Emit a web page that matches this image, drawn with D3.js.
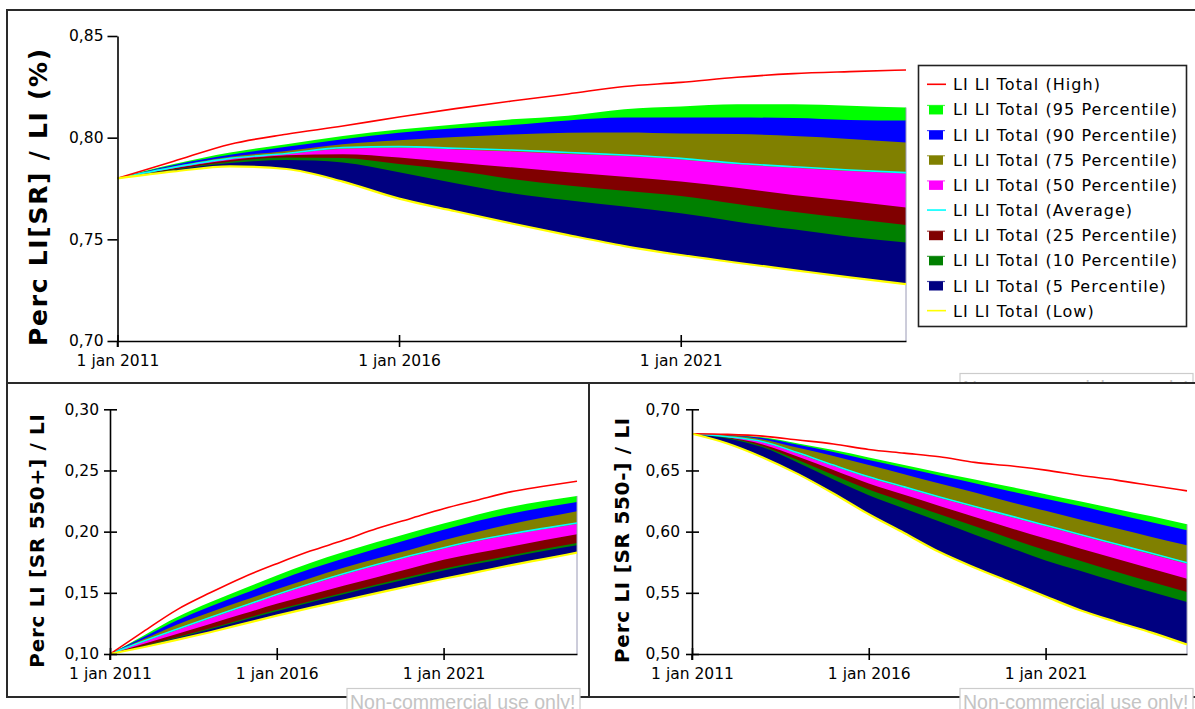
<!DOCTYPE html>
<html>
<head>
<meta charset="utf-8">
<script src="https://cdn.jsdelivr.net/npm/d3@7"></script>
<style>
  body { margin: 0; background: #fff; }
  text { font-family: "DejaVu Sans", Verdana, sans-serif; }
</style>
</head>
<body>
<div id="chart"></div>
<script>
// Yearly points, 1 jan of each year
var years = [2011, 2012, 2013, 2014, 2015, 2016, 2017, 2018, 2019, 2020, 2021, 2022, 2023, 2024, 2025];
var xTickYears = [2011, 2016, 2021];

// Perc LI[SR] / LI (%)
var totHigh = [0.780, 0.7884, 0.7968, 0.8017, 0.8057, 0.8102, 0.8143, 0.8180, 0.8215, 0.8252, 0.8272, 0.8297, 0.8315, 0.8325, 0.8333];
var totP95  = [0.780, 0.7870, 0.7927, 0.7968, 0.8008, 0.8040, 0.8065, 0.8090, 0.8108, 0.8140, 0.8153, 0.8164, 0.8164, 0.8157, 0.8148];
var totP90  = [0.780, 0.7866, 0.7916, 0.7955, 0.7992, 0.8024, 0.8046, 0.8062, 0.8085, 0.8099, 0.8099, 0.8099, 0.8097, 0.8087, 0.8084];
var totP75  = [0.780, 0.7859, 0.7906, 0.7935, 0.7968, 0.7987, 0.8003, 0.8016, 0.8024, 0.8026, 0.8021, 0.8018, 0.8008, 0.7994, 0.7976];
var totAvg  = [0.780, 0.7854, 0.7898, 0.7922, 0.7951, 0.7956, 0.7948, 0.7939, 0.7927, 0.7915, 0.7898, 0.7874, 0.7857, 0.7841, 0.7828];
var totP50  = [0.780, 0.7852, 0.7895, 0.7918, 0.7945, 0.7950, 0.7942, 0.7932, 0.7920, 0.7910, 0.7893, 0.7869, 0.7852, 0.7836, 0.7824];
var totP25  = [0.780, 0.7849, 0.7890, 0.7914, 0.7919, 0.7903, 0.7878, 0.7854, 0.7830, 0.7808, 0.7784, 0.7754, 0.7718, 0.7689, 0.7656];
var totP10  = [0.780, 0.7844, 0.7882, 0.7903, 0.7900, 0.7870, 0.7838, 0.7797, 0.7765, 0.7739, 0.7713, 0.7674, 0.7636, 0.7603, 0.7571];
var totP5   = [0.780, 0.7841, 0.7875, 0.7890, 0.7878, 0.7830, 0.7776, 0.7727, 0.7692, 0.7661, 0.7628, 0.7587, 0.7549, 0.7513, 0.7485];
var totLow  = [0.780, 0.7834, 0.7859, 0.7846, 0.7784, 0.7700, 0.7638, 0.7578, 0.7521, 0.7467, 0.7423, 0.7385, 0.7349, 0.7313, 0.7280];

// Perc LI [SR 550+] / LI
var plusHigh = [0.100, 0.1183, 0.1361, 0.1500, 0.1628, 0.1738, 0.1841, 0.1929, 0.2025, 0.2106, 0.2188, 0.2257, 0.2325, 0.2371, 0.2412];
var plusP95  = [0.100, 0.1150, 0.1301, 0.1423, 0.1533, 0.1642, 0.1743, 0.1833, 0.1915, 0.1992, 0.2066, 0.2139, 0.2202, 0.2251, 0.2292];
var plusP90  = [0.100, 0.1137, 0.1273, 0.1388, 0.1492, 0.1596, 0.1694, 0.1781, 0.1863, 0.1940, 0.2016, 0.2087, 0.2147, 0.2197, 0.2243];
var plusP75  = [0.100, 0.1120, 0.1240, 0.1342, 0.1437, 0.1530, 0.1620, 0.1705, 0.1781, 0.1852, 0.1929, 0.1997, 0.2060, 0.2115, 0.2167];
var plusAvg  = [0.100, 0.1104, 0.1202, 0.1298, 0.1393, 0.1486, 0.1574, 0.1656, 0.1732, 0.1803, 0.1869, 0.1929, 0.1981, 0.2027, 0.2071];
var plusP50  = [0.100, 0.1098, 0.1194, 0.1290, 0.1385, 0.1478, 0.1566, 0.1648, 0.1724, 0.1795, 0.1861, 0.1921, 0.1973, 0.2019, 0.2063];
var plusP25  = [0.100, 0.1082, 0.1164, 0.1246, 0.1328, 0.1410, 0.1484, 0.1557, 0.1628, 0.1699, 0.1770, 0.1825, 0.1877, 0.1929, 0.1978];
var plusP10  = [0.100, 0.1068, 0.1137, 0.1210, 0.1287, 0.1361, 0.1432, 0.1500, 0.1568, 0.1634, 0.1697, 0.1751, 0.1806, 0.1858, 0.1907];
var plusP5   = [0.100, 0.1063, 0.1131, 0.1202, 0.1276, 0.1350, 0.1421, 0.1489, 0.1555, 0.1620, 0.1683, 0.1738, 0.1790, 0.1841, 0.1888];
var plusLow  = [0.100, 0.1055, 0.1115, 0.1178, 0.1246, 0.1314, 0.1377, 0.1437, 0.1497, 0.1557, 0.1615, 0.1669, 0.1724, 0.1776, 0.1828];

// Perc LI [SR 550-] / LI
var minHigh = [0.680, 0.6795, 0.6781, 0.6749, 0.6716, 0.6672, 0.6642, 0.6612, 0.6566, 0.6538, 0.6503, 0.6459, 0.6421, 0.6377, 0.6333];
var minP95  = [0.680, 0.6792, 0.6771, 0.6721, 0.6667, 0.6607, 0.6544, 0.6484, 0.6426, 0.6366, 0.6306, 0.6246, 0.6186, 0.6126, 0.6060];
var minP90  = [0.680, 0.6790, 0.6765, 0.6710, 0.6650, 0.6585, 0.6522, 0.6459, 0.6396, 0.6331, 0.6268, 0.6208, 0.6142, 0.6077, 0.6011];
var minP75  = [0.680, 0.6787, 0.6754, 0.6686, 0.6618, 0.6544, 0.6470, 0.6393, 0.6320, 0.6243, 0.6170, 0.6098, 0.6027, 0.5956, 0.5888];
var minAvg  = [0.680, 0.6776, 0.6735, 0.6645, 0.6544, 0.6448, 0.6366, 0.6284, 0.6205, 0.6129, 0.6052, 0.5975, 0.5899, 0.5823, 0.5746];
var minP50  = [0.680, 0.6773, 0.6730, 0.6637, 0.6536, 0.6440, 0.6358, 0.6276, 0.6197, 0.6120, 0.6044, 0.5967, 0.5891, 0.5814, 0.5738];
var minP25  = [0.680, 0.6771, 0.6713, 0.6612, 0.6503, 0.6393, 0.6301, 0.6210, 0.6120, 0.6030, 0.5943, 0.5861, 0.5779, 0.5697, 0.5615];
var minP10  = [0.680, 0.6768, 0.6699, 0.6585, 0.6462, 0.6344, 0.6243, 0.6142, 0.6044, 0.5945, 0.5847, 0.5760, 0.5672, 0.5588, 0.5506];
var minP5   = [0.680, 0.6762, 0.6689, 0.6563, 0.6426, 0.6298, 0.6189, 0.6082, 0.5975, 0.5869, 0.5765, 0.5678, 0.5590, 0.5506, 0.5424];
var minLow  = [0.680, 0.6721, 0.6607, 0.6470, 0.6312, 0.6142, 0.5989, 0.5833, 0.5705, 0.5588, 0.5470, 0.5355, 0.5262, 0.5175, 0.5077];

var legendNames = ["LI LI Total (High)", "LI LI Total (95 Percentile)", "LI LI Total (90 Percentile)",
  "LI LI Total (75 Percentile)", "LI LI Total (50 Percentile)", "LI LI Total (Average)",
  "LI LI Total (25 Percentile)", "LI LI Total (10 Percentile)", "LI LI Total (5 Percentile)", "LI LI Total (Low)"];
var legendKinds = ["line", "area", "area", "area", "area", "line", "area", "area", "area", "line"];
var seriesColors = ["#ff0000", "#00ff00", "#0000ff", "#808000", "#ff00ff", "#00ffff", "#800000", "#008000", "#000080", "#ffff00"];

var dates = years.map(function(y) { return new Date(Date.UTC(y, 0, 1)); });
var tickDates = xTickYears.map(function(y) { return new Date(Date.UTC(y, 0, 1)); });

var svg = d3.select("#chart")
  .append("svg")
  .attr("width", 1195)
  .attr("height", 709);

function frame(x, y, w, h) {
  svg.append("rect")
    .attr("x", x).attr("y", y).attr("width", w).attr("height", h)
    .attr("fill", "#fff").attr("stroke", "#2a2a2a").attr("stroke-width", 2);
}

function watermark(x, y, dy) {
  svg.append("rect")
    .attr("x", x).attr("y", y).attr("width", 233).attr("height", 40)
    .attr("fill", "#fff").attr("stroke", "#cccccc").attr("stroke-width", 1.2);
  svg.append("text")
    .attr("x", x + 3).attr("y", y + dy)
    .style("font-family", "'Liberation Sans', Arial, sans-serif")
    .attr("font-size", "19.5px")
    .attr("fill", "#c4c4c4")
    .text("Non-commercial use only!");
}

function drawPanel(p) {
  var s = p.series; // [high, p95, p90, p75, p50, avg, p25, p10, p5, low]
  var x = d3.scaleUtc().domain([dates[0], dates[dates.length - 1]]).range([p.left, p.right]);
  var y = d3.scaleLinear().domain(p.domain).range([p.bottom, p.top]);
  var g = svg.append("g");
  var low = s[9];

  // stacked percentile bands, each one filled down to the Low line
  [1, 2, 3, 4, 6, 7, 8].forEach(function(k) {
    var area = d3.area()
      .x(function(d, i) { return x(dates[i]); })
      .y0(function(d, i) { return y(low[i]); })
      .y1(function(d) { return y(d); })
      .curve(d3.curveMonotoneX);
    g.append("path").datum(s[k]).attr("d", area).attr("fill", seriesColors[k]);
  });

  // right edge of the plot
  g.append("line")
    .attr("x1", p.right).attr("x2", p.right)
    .attr("y1", y(s[1][s[1].length - 1])).attr("y2", p.bottom)
    .attr("stroke", "#9a9ab6").attr("stroke-width", 1);

  var line = d3.line()
    .x(function(d, i) { return x(dates[i]); })
    .y(function(d) { return y(d); })
    .curve(d3.curveMonotoneX);
  [[5, 1.6], [0, 1.6], [9, 2.2]].forEach(function(a) {
    g.append("path").datum(s[a[0]]).attr("d", line)
      .attr("fill", "none").attr("stroke", seriesColors[a[0]]).attr("stroke-width", a[1]);
  });

  // axes
  var yAxis = g.append("g")
    .attr("transform", "translate(" + p.left + ",0)")
    .call(d3.axisLeft(y).tickValues(p.ticks).tickSizeOuter(0)
      .tickSizeInner(p.yTickOut).tickPadding(p.yPad)
      .tickFormat(function(d) { return d.toFixed(2).replace(".", ","); }));
  yAxis.selectAll(".tick line").attr("x1", p.yTickIn);
  var xAxis = g.append("g")
    .attr("transform", "translate(0," + p.bottom + ")")
    .call(d3.axisBottom(x).tickValues(tickDates).tickSizeOuter(0)
      .tickSizeInner(6).tickPadding(8)
      .tickFormat(function(d) { return "1 jan " + d.getUTCFullYear(); }));
  xAxis.selectAll(".tick line").attr("y1", -6);
  g.selectAll(".domain, .tick line").attr("stroke", "#000").attr("stroke-width", 1.6);
  g.selectAll(".tick text").attr("fill", "#000").attr("font-size", "15.5px")
    .style("font-family", "'DejaVu Sans', Verdana, sans-serif");
  // y axis runs down through the x axis a little
  g.append("line").attr("x1", p.left).attr("x2", p.left)
    .attr("y1", p.bottom).attr("y2", p.bottom + 6)
    .attr("stroke", "#000").attr("stroke-width", 1.6);

  svg.append("text")
    .attr("transform", "translate(" + p.titleX + "," + p.titleY + ") rotate(-90)")
    .attr("text-anchor", "middle")
    .attr("font-weight", "bold")
    .attr("font-size", p.titleSize + "px")
    .attr("letter-spacing", p.titleSpacing)
    .attr("fill", "#000")
    .text(p.title);
}

// top panel
frame(7, 10, 1200, 373);
watermark(960, 373.5, 21);
drawPanel({
  series: [totHigh, totP95, totP90, totP75, totP50, totAvg, totP25, totP10, totP5, totLow],
  domain: [0.70, 0.85], ticks: [0.70, 0.75, 0.80, 0.85],
  left: 117.5, right: 906, top: 36, bottom: 341,
  yTickOut: 10, yTickIn: 0, yPad: 4,
  title: "Perc LI[SR] / LI (%)", titleX: 47, titleY: 196.5, titleSize: 25, titleSpacing: 1.7
});

// legend
var legend = svg.append("g");
legend.append("rect")
  .attr("x", 918.5).attr("y", 65.5).attr("width", 268).attr("height", 261)
  .attr("fill", "#fff").attr("stroke", "#222").attr("stroke-width", 1.6);
legendNames.forEach(function(name, i) {
  var cy = 84.3 + i * 25.15;
  if (legendKinds[i] === "line") {
    legend.append("line").attr("x1", 927).attr("x2", 946).attr("y1", cy).attr("y2", cy)
      .attr("stroke", seriesColors[i]).attr("stroke-width", 1.6);
  } else {
    legend.append("rect").attr("x", 929).attr("y", cy - 4).attr("width", 14).attr("height", 9)
      .attr("fill", seriesColors[i]);
    legend.append("line").attr("x1", 927).attr("x2", 945).attr("y1", cy - 4).attr("y2", cy - 4)
      .attr("stroke", seriesColors[i]).attr("stroke-width", 1.2).attr("opacity", 0.7);
  }
  legend.append("text")
    .attr("x", 953).attr("y", cy + 6)
    .attr("font-size", "16px").attr("letter-spacing", 1.05)
    .attr("fill", "#000")
    .text(name);
});

// bottom panels
frame(7, 383, 582, 314);
frame(589, 383, 620, 314);
drawPanel({
  series: [plusHigh, plusP95, plusP90, plusP75, plusP50, plusAvg, plusP25, plusP10, plusP5, plusLow],
  domain: [0.10, 0.30], ticks: [0.10, 0.15, 0.20, 0.25, 0.30],
  left: 110, right: 577, top: 409.3, bottom: 654,
  yTickOut: 6, yTickIn: 7, yPad: 5,
  title: "Perc LI [SR 550+] / LI", titleX: 44, titleY: 540.5, titleSize: 20, titleSpacing: 0.7
});
drawPanel({
  series: [minHigh, minP95, minP90, minP75, minP50, minAvg, minP25, minP10, minP5, minLow],
  domain: [0.50, 0.70], ticks: [0.50, 0.55, 0.60, 0.65, 0.70],
  left: 692, right: 1187, top: 409.3, bottom: 654,
  yTickOut: 6, yTickIn: 7, yPad: 6,
  title: "Perc LI [SR 550-] / LI", titleX: 629, titleY: 540, titleSize: 20, titleSpacing: 0.7
});
watermark(347, 688.5, 20);
watermark(960, 688.5, 20);
</script>
</body>
</html>
